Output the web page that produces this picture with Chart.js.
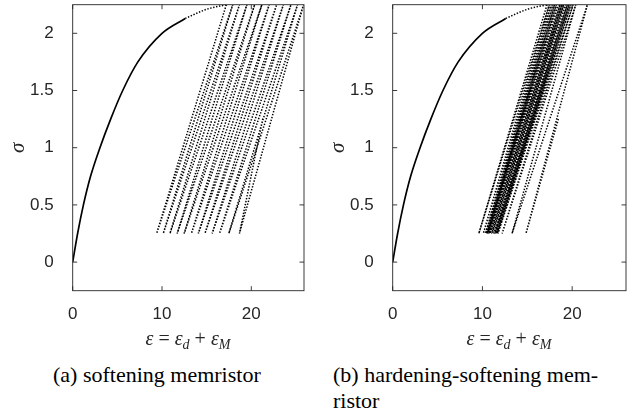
<!DOCTYPE html>
<html>
<head>
<meta charset="utf-8">
<script src="https://cdn.jsdelivr.net/npm/chart.js@4.4.1/dist/chart.umd.min.js"></script>
<style>
  body { margin: 0; background: #fff; width: 638px; height: 416px; overflow: hidden; position: relative; }
  .panel { position: absolute; top: 0; }
  #panelA { left: 0; }
  #panelB { left: 320px; }
  .xlab { position: absolute; top: 327px; font-family: "Liberation Serif", serif; font-size: 20px; color: #262626; white-space: nowrap; transform: translateX(-50%); }
  .xlab i { font-style: italic; }
  .xlab sub { font-size: 14px; vertical-align: -4px; line-height: 0; }
  .cap { position: absolute; font-family: "Liberation Serif", serif; font-size: 22px; color: #000; line-height: 26px; }
</style>
</head>
<body>
<div class="panel" id="panelA"><canvas id="chartA" width="320" height="340"></canvas></div>
<div class="panel" id="panelB"><canvas id="chartB" width="318" height="340"></canvas></div>

<div class="xlab" style="left:188px"><i>ε</i> = <i>ε<sub>d</sub></i> + <i>ε<sub>M</sub></i></div>
<div class="xlab" style="left:509px"><i>ε</i> = <i>ε<sub>d</sub></i> + <i>ε<sub>M</sub></i></div>

<div class="cap" style="left:53px; top:362px;">(a) softening memristor</div>
<div class="cap" style="left:333px; top:362px; width:272px; text-align:justify; text-align-last:left;">(b) hardening-softening mem-<br>ristor</div>

<script>
// first loading branch (same for both models)
const curveEps = [0, 0.55, 1.2, 2.0, 3.05, 4.25, 5.6, 7.3, 10.0, 12.6, 15.0, 17.2];
const curveSig = [0, 0.25, 0.5, 0.75, 1.0, 1.25, 1.5, 1.75, 2.0, 2.13, 2.21, 2.25];
const solidUpTo = 9; // from here on the dots separate

// stress limits of the cycling
const sigMax = 2.25;
const sigMin = 0.25;

// softening memristor: strain at each turning point
const peaksA   = [17.2, 17.92, 18.67, 19.51, 20.37, 21.18, 22.0, 22.84, 23.59, 24.44, 25.18, 25.85];
const troughsA = [9.40, 10.14, 10.89, 11.70, 12.48, 13.29, 14.07, 14.81, 15.62, 16.44, 17.48, 18.67];
const lastA = [21.3, 1.26];

// hardening-softening memristor
const peaksB   = [17.2, 17.45, 17.65, 17.85, 18.05, 18.25, 18.45, 18.65, 18.85, 19.05, 19.25, 19.45, 19.65, 19.85, 20.1, 20.4, 21.7];
const troughsB = [9.6, 10.1, 10.35, 10.5, 10.62, 10.75, 10.88, 11.0, 11.12, 11.25, 11.38, 11.5, 11.62, 11.73, 12.2, 13.3, 14.85];
const lastB = [18.5, 1.26];

const xTicks = [0, 10, 20];
const yTicks = [0, 0.5, 1, 1.5, 2];

const ink = '#262626';

function curvePoints(from, to) {
  const pts = [];
  for (let i = from; i <= to; i++) pts.push({x: curveEps[i], y: curveSig[i]});
  return pts;
}

// peak -> trough -> next peak ... ending on the unfinished branch
function cyclePoints(peaks, troughs, last) {
  const pts = [];
  peaks.forEach(function(p, i) {
    pts.push({x: p, y: sigMax});
    pts.push({x: troughs[i], y: sigMin});
  });
  pts.push({x: last[0], y: last[1]});
  return pts;
}

// box with inward ticks on all four sides
const frame = {
  id: 'frame',
  afterDatasetsDraw(chart) {
    const ctx = chart.ctx, a = chart.chartArea;
    const x = chart.scales.x, y = chart.scales.y;
    ctx.save();
    ctx.strokeStyle = ink;
    ctx.lineWidth = 0.9;
    ctx.strokeRect(a.left, a.top, a.right - a.left, a.bottom - a.top);
    ctx.beginPath();
    xTicks.forEach(function(v) {
      const px = x.getPixelForValue(v);
      ctx.moveTo(px, a.bottom); ctx.lineTo(px, a.bottom - 4.5);
      ctx.moveTo(px, a.top); ctx.lineTo(px, a.top + 4.5);
    });
    yTicks.forEach(function(v) {
      const py = y.getPixelForValue(v);
      ctx.moveTo(a.left, py); ctx.lineTo(a.left + 4.5, py);
      ctx.moveTo(a.right, py); ctx.lineTo(a.right - 4.5, py);
    });
    ctx.stroke();
    ctx.restore();
  }
};

function makeChart(id, peaks, troughs, last, xMax, padRight) {
  const dotted = {borderColor: '#000', borderWidth: 1.5, borderDash: [1.4, 1.6], pointRadius: 0, tension: 0, fill: false};
  return new Chart(id, {
    type: 'line',
    data: {
      datasets: [
        {data: curvePoints(0, solidUpTo), borderColor: '#000', borderWidth: 1.7, pointRadius: 0, cubicInterpolationMode: 'monotone', fill: false},
        Object.assign({data: curvePoints(solidUpTo, curveEps.length - 1), cubicInterpolationMode: 'monotone'}, dotted),
        Object.assign({data: cyclePoints(peaks, troughs, last)}, dotted)
      ]
    },
    options: {
      responsive: false,
      animation: false,
      devicePixelRatio: 1,
      layout: {padding: {left: 5, right: padRight, top: 4.7, bottom: 0}},
      plugins: {legend: {display: false}, tooltip: {enabled: false}},
      scales: {
        x: {
          type: 'linear', min: 0, max: xMax,
          grid: {display: false}, border: {display: false},
          afterBuildTicks: function(s) { s.ticks = xTicks.map(v => ({value: v})); },
          afterFit: function(s) { s.height = 49.3; s.paddingLeft = 0; s.paddingRight = 0; },
          ticks: {font: {family: 'Liberation Sans', size: 17}, color: ink, padding: 5, maxRotation: 0,
                  callback: v => String(v)}
        },
        y: {
          type: 'linear', min: -0.25, max: 2.25,
          grid: {display: false}, border: {display: false},
          afterBuildTicks: function(s) { s.ticks = yTicks.map(v => ({value: v})); },
          afterFit: function(s) { s.width = 67.7; s.paddingTop = 0; s.paddingBottom = 0; },
          ticks: {font: {family: 'Liberation Sans', size: 17}, color: ink, padding: 11,
                  callback: v => String(v)},
          title: {display: true, text: 'σ', color: ink, font: {family: 'Liberation Serif', style: 'italic', size: 21}, padding: {top: 1, bottom: 0}}
        }
      }
    },
    plugins: [frame]
  });
}

window.chartA = makeChart('chartA', peaksA, troughsA, lastA, 25.9, 16);
window.chartB = makeChart('chartB', peaksB, troughsB, lastB, 26.0, 12);
</script>
</body>
</html>
